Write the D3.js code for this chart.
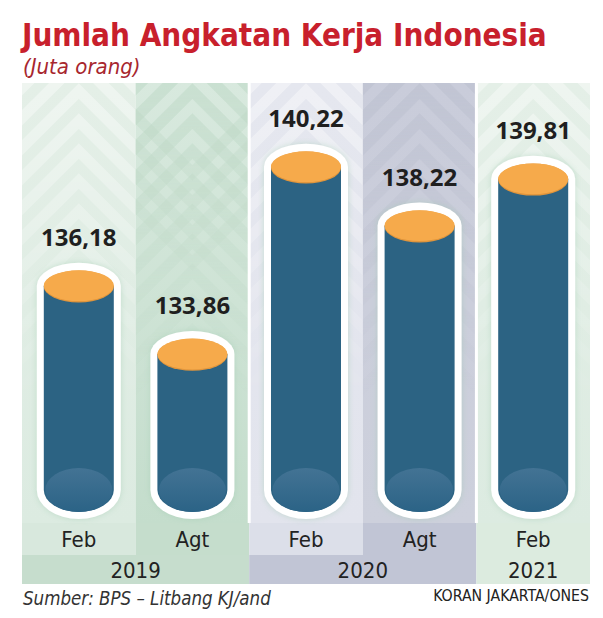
<!DOCTYPE html>
<html><head><meta charset="utf-8">
<script src="https://cdn.jsdelivr.net/npm/d3@7"></script>
<style>
html,body{margin:0;padding:0;background:#fff;}
svg{display:block;}
</style></head>
<body>
<svg id="chart" width="603" height="618"></svg>
<script>
// ---- data ----
const periods = ["Feb 2019", "Agt 2019", "Feb 2020", "Agt 2020", "Feb 2021"];
const months = ["Feb", "Agt", "Feb", "Agt", "Feb"];
const values = [136.18, 133.86, 140.22, 138.22, 139.81];
const valueLabels = ["136,18", "133,86", "140,22", "138,22", "139,81"];
const years = ["2019", "2020", "2021"];
const yearSpans = [[0, 1], [2, 3], [4, 4]];
const title = "Jumlah Angkatan Kerja Indonesia";
const subtitle = "(Juta orang)";
const source = "Sumber: BPS – Litbang KJ/and";
const credit = "KORAN JAKARTA/ONES";

// ---- styles ----
const panelTop = [ "#e4efe7", "#d8e9de", "#e5e7ef", "#c9ccda", "#e4efe7" ];
const panelBot = [ "#dcebe1", "#c4ddcc", "#e2e4ed", "#cdd0dc", "#dcebe1" ];
const monthFill = ["#d8e8dd", "#c5ddcc", "#dcdfe9", "#c1c5d5", "#dcebdf"];
const yearFill = ["#c6ddcd", "#c1c5d5", "#dcebdf"];
const FONT = "'Liberation Sans Narrow','DejaVu Sans Condensed',sans-serif";

const svg = d3.select("#chart");
const defs = svg.append("defs");

const x = d3.scaleBand().domain(periods).range([22, 590]).paddingInner(0).paddingOuter(0);
const y = d3.scaleLinear().domain([128, 142]).range([526.6, 114.3]);

const panelY0 = 83, panelY1 = 523;
const rowM0 = 523, rowM1 = 555, rowY1 = 584;

periods.forEach((p, i) => {
  const g = defs.append("linearGradient").attr("id", "pg" + i)
    .attr("x1", 0).attr("y1", 0).attr("x2", 0).attr("y2", 1);
  g.append("stop").attr("offset", "0%").attr("stop-color", panelTop[i]);
  g.append("stop").attr("offset", "100%").attr("stop-color", panelBot[i]);
});
const mg = defs.append("linearGradient").attr("id", "fade").attr("x1", 0).attr("y1", 0).attr("x2", 0).attr("y2", 1);
mg.append("stop").attr("offset", "0%").attr("stop-color", "#fff").attr("stop-opacity", 1);
mg.append("stop").attr("offset", "45%").attr("stop-color", "#fff").attr("stop-opacity", 0.4);
mg.append("stop").attr("offset", "75%").attr("stop-color", "#fff").attr("stop-opacity", 0);
defs.append("mask").attr("id", "fadeMask").attr("maskContentUnits", "userSpaceOnUse")
  .append("rect").attr("x", 0).attr("y", panelY0).attr("width", 603).attr("height", panelY1 - panelY0)
  .attr("fill", "url(#fade)");

const hg = defs.append("linearGradient").attr("id", "hl").attr("x1", 0).attr("y1", 0).attr("x2", 0).attr("y2", 1);
hg.append("stop").attr("offset", "0%").attr("stop-color", "#43739475".slice(0,7));
hg.append("stop").attr("offset", "100%").attr("stop-color", "#2b6386");

const f = defs.append("filter").attr("id", "glow").attr("x", "-30%").attr("y", "-10%").attr("width", "160%").attr("height", "120%");
f.append("feGaussianBlur").attr("in", "SourceAlpha").attr("stdDeviation", 3).attr("result", "b");
f.append("feFlood").attr("flood-color", "#9fcbb0").attr("flood-opacity", 0.5);
f.append("feComposite").attr("in2", "b").attr("operator", "in").attr("result", "s");
const fm = f.append("feMerge");
fm.append("feMergeNode").attr("in", "s");
fm.append("feMergeNode").attr("in", "SourceGraphic");

// panels
periods.forEach((p, i) => {
  svg.append("rect").attr("x", x(p)).attr("y", panelY0).attr("width", x.bandwidth()).attr("height", panelY1 - panelY0)
    .attr("fill", "url(#pg" + i + ")");
});
// chevron pattern
const chev = svg.append("g").attr("mask", "url(#fadeMask)");
periods.forEach((p, i) => {
  const x0 = x(p), w = x.bandwidth(), cx = x0 + w / 2;
  defs.append("clipPath").attr("id", "clip" + i).append("rect")
    .attr("x", x0).attr("y", panelY0).attr("width", w).attr("height", panelY1 - panelY0);
  const cp = chev.append("g").attr("clip-path", "url(#clip" + i + ")");
  const dark = (i === 1 || i === 3);
  const col = i === 1 ? "#b7d4c0" : (i === 3 ? "#b9bdcd" : "#ffffff");
  const op = dark ? 0.45 : 0.4;
  for (let k = -2; k < 9; k++) {
    const py = panelY0 + 8 + k * 30;
    cp.append("path")
      .attr("d", `M${cx - 130},${py + 130} L${cx},${py} L${cx + 130},${py + 130}`)
      .attr("fill", "none").attr("stroke", col).attr("stroke-opacity", op).attr("stroke-width", 11);
  }
  if (i === 1) {
    for (let k = 0; k < 4; k++) {
      const py = panelY0 + 90 + k * 30;
      cp.append("path")
        .attr("d", `M${cx - 130},${py - 130} L${cx},${py} L${cx + 130},${py - 130}`)
        .attr("fill", "none").attr("stroke", col).attr("stroke-opacity", 0.35).attr("stroke-width", 11);
    }
  }
});
[2, 4].forEach(i => {
  svg.append("rect").attr("x", x(periods[i]) - 1.5).attr("y", panelY0).attr("width", 3).attr("height", panelY1 - panelY0)
    .attr("fill", "#ffffff");
});

// month row
periods.forEach((p, i) => {
  svg.append("rect").attr("x", x(p)).attr("y", rowM0).attr("width", x.bandwidth()).attr("height", rowM1 - rowM0)
    .attr("fill", monthFill[i]);
  svg.append("text").attr("x", x(p) + x.bandwidth() / 2).attr("y", 547)
    .attr("text-anchor", "middle").attr("font-family", FONT)
    .attr("font-size", 22).attr("fill", "#222").text(months[i]);
});
// year row
yearSpans.forEach((s, j) => {
  const x0 = x(periods[s[0]]), x1 = x(periods[s[1]]) + x.bandwidth();
  svg.append("rect").attr("x", x0).attr("y", rowM1).attr("width", x1 - x0).attr("height", rowY1 - rowM1)
    .attr("fill", yearFill[j]);
  svg.append("text").attr("x", (x0 + x1) / 2).attr("y", 578)
    .attr("text-anchor", "middle").attr("font-family", FONT)
    .attr("font-size", 22).attr("fill", "#222").text(years[j]);
});

// bars (cylinders)
const bottomCy = 490, rx = 35, ryTop = 16, ryBot = 22, pad = 7;
values.forEach((v, i) => {
  const cx = x(periods[i]) + x.bandwidth() / 2;
  const ty = y(v);
  const g = svg.append("g");
  const ox = rx + pad, oryT = ryTop + pad, oryB = ryBot + pad;
  g.append("path")
    .attr("d", `M${cx - ox},${ty} A${ox},${oryT} 0 0 1 ${cx + ox},${ty} L${cx + ox},${bottomCy} A${ox},${oryB} 0 0 1 ${cx - ox},${bottomCy} Z`)
    .attr("fill", "#ffffff").attr("filter", "url(#glow)");
  g.append("path")
    .attr("d", `M${cx - rx},${ty} L${cx + rx},${ty} L${cx + rx},${bottomCy} A${rx},${ryBot} 0 0 1 ${cx - rx},${bottomCy} Z`)
    .attr("fill", "#2c6383");
  g.append("ellipse").attr("cx", cx).attr("cy", bottomCy).attr("rx", rx - 1.5).attr("ry", ryBot)
    .attr("fill", "url(#hl)");
  g.append("ellipse").attr("cx", cx).attr("cy", ty + 0.8).attr("rx", rx).attr("ry", ryTop)
    .attr("fill", "#e0953c");
  g.append("ellipse").attr("cx", cx).attr("cy", ty).attr("rx", rx).attr("ry", ryTop - 0.6)
    .attr("fill", "#f6aa4b");
  g.append("text").attr("x", cx).attr("y", ty - 40)
    .attr("text-anchor", "middle").attr("font-family", "'Open Sans','DejaVu Sans',sans-serif")
    .attr("font-weight", 700).attr("font-size", 24).attr("fill", "#1f1f1f").text(valueLabels[i]);
});

// title, sized to fit
function fitText(sel, target, maxSize) {
  let fs = maxSize;
  sel.attr("font-size", fs);
  const w = sel.node().getComputedTextLength();
  if (w > 0) { fs = fs * target / w; sel.attr("font-size", fs); }
}
const t = svg.append("text").attr("x", 22).attr("y", 46)
  .attr("font-family", FONT).attr("font-weight", 700).attr("fill", "#c8202c").text(title);
fitText(t, 525, 37);
svg.append("text").attr("x", 23).attr("y", 74)
  .attr("font-family", FONT).attr("font-style", "italic").attr("font-size", 22).attr("fill", "#a7262e").text(subtitle);

// footer
const s1 = svg.append("text").attr("x", 23).attr("y", 605)
  .attr("font-family", FONT).attr("font-style", "italic").attr("fill", "#333").text(source);
fitText(s1, 248, 18);
const c1 = svg.append("text").attr("x", 589).attr("y", 601).attr("text-anchor", "end")
  .attr("font-family", FONT).attr("fill", "#222").text(credit);
fitText(c1, 156, 15);
</script>
</body></html>
